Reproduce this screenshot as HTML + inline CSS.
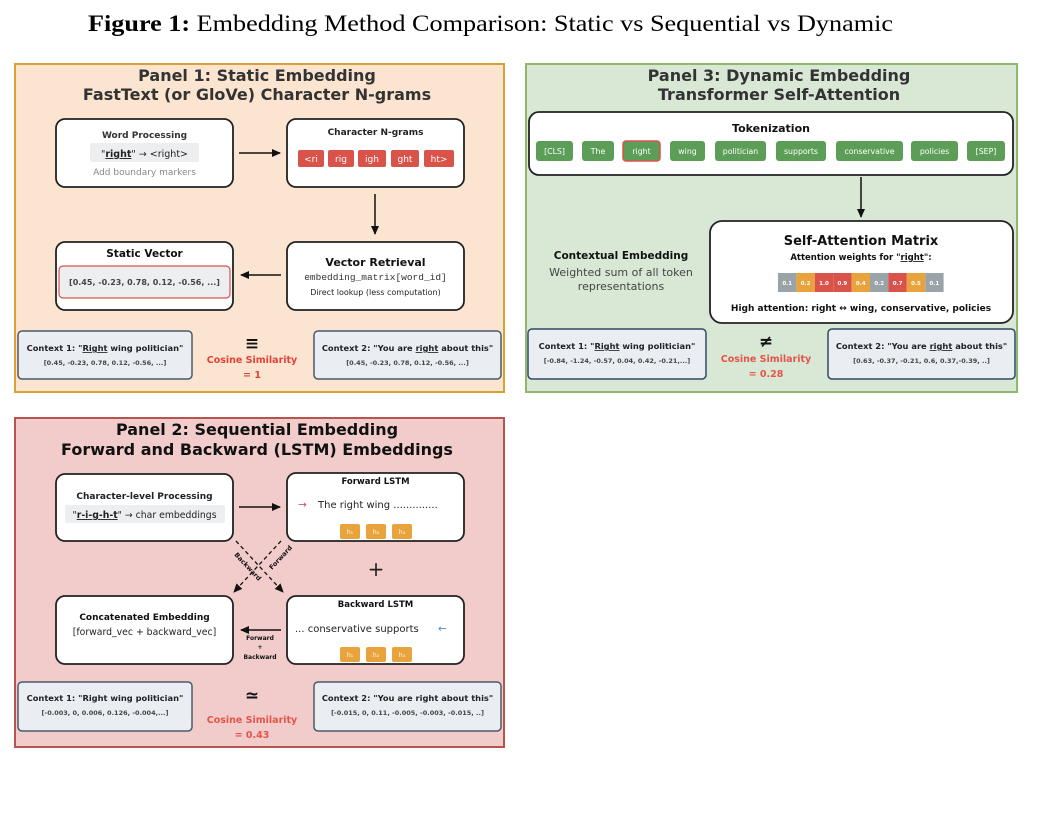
<!DOCTYPE html>
<html><head><meta charset="utf-8"><style>
html,body{margin:0;padding:0;background:#fff;}
svg text{font-family:"DejaVu Sans","Liberation Sans",sans-serif;}
.b{font-weight:bold;}
.serif{font-family:"Liberation Serif",serif;}
</style></head><body>
<svg width="1044" height="822" viewBox="0 0 1044 822" xmlns="http://www.w3.org/2000/svg">
<defs>
<marker id="ah" markerWidth="10" markerHeight="10" refX="8" refY="5" orient="auto" markerUnits="userSpaceOnUse"><path d="M0,1 L9,5 L0,9 Z" fill="#111"/></marker>
</defs>
<text x="88" y="31" class="serif" font-size="23" textLength="805" lengthAdjust="spacingAndGlyphs"><tspan font-weight="bold">Figure 1:</tspan> Embedding Method Comparison: Static vs Sequential vs Dynamic</text>

<!-- Panel 1 -->
<rect x="15" y="64" width="489" height="328" fill="#fbe5d0" stroke="#d9a233" stroke-width="2"/>
<text x="257" y="81" class="b" font-size="16" fill="#333" text-anchor="middle">Panel 1: Static Embedding</text>
<text x="257" y="100" class="b" font-size="16" fill="#333" text-anchor="middle">FastText (or GloVe) Character N-grams</text>
<rect x="56" y="119" width="177" height="68" rx="9" fill="#fff" stroke="#222" stroke-width="1.8"/>
<text x="144.5" y="138" class="b" font-size="9" fill="#333" text-anchor="middle">Word Processing</text>
<rect x="90" y="143" width="109" height="19" rx="2" fill="#eceef0"/>
<text x="144.5" y="157" font-size="9.5" fill="#222" text-anchor="middle">"<tspan font-weight="bold" text-decoration="underline">right</tspan>" → &lt;right&gt;</text>
<text x="144.5" y="175" font-size="9" fill="#888" text-anchor="middle">Add boundary markers</text>
<rect x="287" y="119" width="177" height="68" rx="9" fill="#fff" stroke="#222" stroke-width="1.8"/>
<text x="375.5" y="135" class="b" font-size="9" fill="#222" text-anchor="middle">Character N-grams</text>
<g font-size="9" fill="#fff" text-anchor="middle">
<rect x="298" y="150" width="26" height="17" rx="2" fill="#d9534a"/><text x="311" y="162">&lt;ri</text>
<rect x="328" y="150" width="26" height="17" rx="2" fill="#d9534a"/><text x="341" y="162">rig</text>
<rect x="358" y="150" width="28" height="17" rx="2" fill="#d9534a"/><text x="372" y="162">igh</text>
<rect x="391" y="150" width="28" height="17" rx="2" fill="#d9534a"/><text x="405" y="162">ght</text>
<rect x="424" y="150" width="30" height="17" rx="2" fill="#d9534a"/><text x="439" y="162">ht&gt;</text>
</g>
<line x1="239" y1="153" x2="280" y2="153" stroke="#111" stroke-width="1.5" marker-end="url(#ah)"/>
<line x1="375" y1="194" x2="375" y2="234" stroke="#111" stroke-width="1.5" marker-end="url(#ah)"/>
<rect x="56" y="242" width="177" height="68" rx="9" fill="#fff" stroke="#222" stroke-width="1.8"/>
<text x="144.5" y="257" class="b" font-size="10.5" fill="#111" text-anchor="middle">Static Vector</text>
<rect x="59" y="266" width="171" height="32" rx="4" fill="#eceef0" stroke="#d9534a" stroke-width="1.2"/>
<text x="144.5" y="285" class="b" font-size="8" fill="#444" text-anchor="middle">[0.45, -0.23, 0.78, 0.12, -0.56, ...]</text>
<rect x="287" y="242" width="177" height="68" rx="9" fill="#fff" stroke="#222" stroke-width="1.8"/>
<text x="375.5" y="266" class="b" font-size="11" fill="#111" text-anchor="middle">Vector Retrieval</text>
<text x="375.5" y="280" font-size="9.5" fill="#333" text-anchor="middle" style="font-family:'Liberation Mono',monospace">embedding_matrix[word_id]</text>
<text x="375.5" y="295" font-size="8" fill="#222" text-anchor="middle">Direct lookup (less computation)</text>
<line x1="281" y1="275" x2="241" y2="275" stroke="#111" stroke-width="1.5" marker-end="url(#ah)"/>
<rect x="18" y="331" width="174" height="48" rx="4" fill="#eaeef2" stroke="#4a5a6a" stroke-width="1.5"/>
<text x="105" y="351" class="b" font-size="8.3" fill="#222" text-anchor="middle">Context 1: "<tspan text-decoration="underline">Right</tspan> wing politician"</text>
<text x="105" y="365" class="b" font-size="6.5" fill="#444" text-anchor="middle">[0.45, -0.23, 0.78, 0.12, -0.56, ...]</text>
<rect x="314" y="331" width="187" height="48" rx="4" fill="#eaeef2" stroke="#4a5a6a" stroke-width="1.5"/>
<text x="407.5" y="351" class="b" font-size="8.3" fill="#222" text-anchor="middle">Context 2: "You are <tspan text-decoration="underline">right</tspan> about this"</text>
<text x="407.5" y="365" class="b" font-size="6.5" fill="#444" text-anchor="middle">[0.45, -0.23, 0.78, 0.12, -0.56, ...]</text>
<text x="252" y="349" class="b" font-size="17" fill="#111" text-anchor="middle">≡</text>
<text x="252" y="363" class="b" font-size="9.5" fill="#e4413a" text-anchor="middle">Cosine Similarity</text>
<text x="252" y="378" class="b" font-size="9.5" fill="#e4413a" text-anchor="middle">= 1</text>

<!-- Panel 3 -->
<rect x="526" y="64" width="491" height="328" fill="#d9e7d5" stroke="#8fb86e" stroke-width="2"/>
<text x="779" y="81" class="b" font-size="16" fill="#333" text-anchor="middle">Panel 3: Dynamic Embedding</text>
<text x="779" y="100" class="b" font-size="16" fill="#333" text-anchor="middle">Transformer Self-Attention</text>
<rect x="529" y="112" width="484" height="63" rx="10" fill="#fff" stroke="#222" stroke-width="1.8"/>
<text x="771" y="132" class="b" font-size="11" fill="#111" text-anchor="middle">Tokenization</text>
<g font-size="7.8" fill="#fff" text-anchor="middle">
<rect x="536" y="141" width="37" height="20" rx="3" fill="#5c9e58"/><text x="554.5" y="154">[CLS]</text>
<rect x="582" y="141" width="32" height="20" rx="3" fill="#5c9e58"/><text x="598" y="154">The</text>
<rect x="623" y="141" width="37" height="20" rx="3" fill="#5c9e58" stroke="#d9534a" stroke-width="1.5"/><text x="641.5" y="154">right</text>
<rect x="670" y="141" width="35" height="20" rx="3" fill="#5c9e58"/><text x="687.5" y="154">wing</text>
<rect x="715" y="141" width="51" height="20" rx="3" fill="#5c9e58"/><text x="740.5" y="154">politician</text>
<rect x="776" y="141" width="50" height="20" rx="3" fill="#5c9e58"/><text x="801" y="154">supports</text>
<rect x="836" y="141" width="67" height="20" rx="3" fill="#5c9e58"/><text x="869.5" y="154">conservative</text>
<rect x="911" y="141" width="47" height="20" rx="3" fill="#5c9e58"/><text x="934.5" y="154">policies</text>
<rect x="967" y="141" width="38" height="20" rx="3" fill="#5c9e58"/><text x="986" y="154">[SEP]</text>
</g>
<line x1="861" y1="177" x2="861" y2="217" stroke="#111" stroke-width="1.5" marker-end="url(#ah)"/>
<rect x="710" y="221" width="303" height="102" rx="12" fill="#fff" stroke="#222" stroke-width="1.8"/>
<text x="861" y="245" class="b" font-size="13" fill="#111" text-anchor="middle">Self-Attention Matrix</text>
<text x="861" y="260" class="b" font-size="8.5" fill="#111" text-anchor="middle">Attention weights for "<tspan text-decoration="underline">right</tspan>":</text>
<g font-size="5.5" fill="#fff" text-anchor="middle" class="b">
<rect x="778" y="273" width="18.4" height="19" fill="#9aa3a8"/><text x="787.2" y="285">0.1</text>
<rect x="796.4" y="273" width="18.4" height="19" fill="#e8a33c"/><text x="805.6" y="285">0.2</text>
<rect x="814.8" y="273" width="18.4" height="19" fill="#d9534a"/><text x="824" y="285">1.0</text>
<rect x="833.2" y="273" width="18.4" height="19" fill="#d9534a"/><text x="842.4" y="285">0.9</text>
<rect x="851.6" y="273" width="18.4" height="19" fill="#e8a33c"/><text x="860.8" y="285">0.4</text>
<rect x="870" y="273" width="18.4" height="19" fill="#9aa3a8"/><text x="879.2" y="285">0.2</text>
<rect x="888.4" y="273" width="18.4" height="19" fill="#d9534a"/><text x="897.6" y="285">0.7</text>
<rect x="906.8" y="273" width="18.4" height="19" fill="#e8a33c"/><text x="916" y="285">0.5</text>
<rect x="925.2" y="273" width="18.4" height="19" fill="#9aa3a8"/><text x="934.4" y="285">0.1</text>
</g>
<text x="861" y="311" class="b" font-size="9" fill="#111" text-anchor="middle">High attention: right ↔ wing, conservative, policies</text>
<text x="621" y="259" class="b" font-size="10.5" fill="#111" text-anchor="middle">Contextual Embedding</text>
<text x="621" y="276" font-size="11" fill="#444" text-anchor="middle">Weighted sum of all token</text>
<text x="621" y="290" font-size="11" fill="#444" text-anchor="middle">representations</text>
<rect x="528" y="329" width="178" height="50" rx="4" fill="#eaeef2" stroke="#2f4a66" stroke-width="1.5"/>
<text x="617" y="349" class="b" font-size="8.3" fill="#222" text-anchor="middle">Context 1: "<tspan text-decoration="underline">Right</tspan> wing politician"</text>
<text x="617" y="363" class="b" font-size="6.5" fill="#444" text-anchor="middle">[-0.84, -1.24, -0.57, 0.04, 0.42, -0.21,...]</text>
<rect x="828" y="329" width="187" height="50" rx="4" fill="#eaeef2" stroke="#2f4a66" stroke-width="1.5"/>
<text x="921.5" y="349" class="b" font-size="8.3" fill="#222" text-anchor="middle">Context 2: "You are <tspan text-decoration="underline">right</tspan> about this"</text>
<text x="921.5" y="363" class="b" font-size="6.5" fill="#444" text-anchor="middle">[0.63, -0.37, -0.21, 0.6, 0.37,-0.39, ..]</text>
<text x="766" y="347" class="b" font-size="17" fill="#111" text-anchor="middle">≠</text>
<text x="766" y="362" class="b" font-size="9.5" fill="#e4544a" text-anchor="middle">Cosine Similarity</text>
<text x="766" y="377" class="b" font-size="9.5" fill="#e4544a" text-anchor="middle">=  0.28</text>

<!-- Panel 2 -->
<rect x="15" y="418" width="489" height="329" fill="#f1cccb" stroke="#b85450" stroke-width="2"/>
<text x="257" y="435" class="b" font-size="16" fill="#111" text-anchor="middle">Panel 2: Sequential Embedding</text>
<text x="257" y="455" class="b" font-size="16" fill="#111" text-anchor="middle">Forward and Backward (LSTM) Embeddings</text>
<rect x="56" y="474" width="177" height="67" rx="9" fill="#fff" stroke="#222" stroke-width="1.8"/>
<text x="144.5" y="499" class="b" font-size="9" fill="#222" text-anchor="middle">Character-level Processing</text>
<rect x="65" y="505" width="160" height="18" rx="2" fill="#eceef0"/>
<text x="144.5" y="518" font-size="9.3" fill="#222" text-anchor="middle">"<tspan font-weight="bold" text-decoration="underline">r-i-g-h-t</tspan>" → char embeddings</text>
<rect x="287" y="473" width="177" height="68" rx="9" fill="#fff" stroke="#222" stroke-width="1.8"/>
<text x="375.5" y="484" class="b" font-size="8.5" fill="#111" text-anchor="middle">Forward LSTM</text>
<text x="298" y="508" font-size="10.5" fill="#e4544a">→</text>
<text x="318" y="508" font-size="10" fill="#222">The right wing ..............</text>
<g font-size="6" fill="#fff" text-anchor="middle">
<rect x="340" y="524" width="20" height="15" rx="2" fill="#e8a33c"/><text x="350" y="534">h₁</text>
<rect x="366" y="524" width="20" height="15" rx="2" fill="#e8a33c"/><text x="376" y="534">h₂</text>
<rect x="392" y="524" width="20" height="15" rx="2" fill="#e8a33c"/><text x="402" y="534">h₃</text>
</g>
<line x1="239" y1="507" x2="280" y2="507" stroke="#111" stroke-width="1.5" marker-end="url(#ah)"/>
<line x1="236" y1="541" x2="283" y2="592" stroke="#111" stroke-width="1.3" stroke-dasharray="4,3" marker-end="url(#ah)"/>
<line x1="281" y1="541" x2="234" y2="592" stroke="#111" stroke-width="1.3" stroke-dasharray="4,3" marker-end="url(#ah)"/>
<text transform="translate(234,555) rotate(47)" font-size="6.5" class="b" fill="#111">Backward</text>
<text transform="translate(272,570) rotate(-47)" font-size="6.5" class="b" fill="#111">Forward</text>
<text x="376" y="576" font-size="20" fill="#222" text-anchor="middle">+</text>
<rect x="56" y="596" width="177" height="68" rx="9" fill="#fff" stroke="#222" stroke-width="1.8"/>
<text x="144.5" y="620" class="b" font-size="9" fill="#111" text-anchor="middle">Concatenated Embedding</text>
<text x="144.5" y="635" font-size="9.3" fill="#222" text-anchor="middle">[forward_vec + backward_vec]</text>
<rect x="287" y="596" width="177" height="68" rx="9" fill="#fff" stroke="#222" stroke-width="1.8"/>
<text x="375.5" y="607" class="b" font-size="8.5" fill="#111" text-anchor="middle">Backward LSTM</text>
<text x="295" y="632" font-size="10" fill="#222">... conservative supports</text>
<text x="438" y="632" font-size="10.5" fill="#4a90d9">←</text>
<g font-size="6" fill="#fff" text-anchor="middle">
<rect x="340" y="647" width="20" height="15" rx="2" fill="#e8a33c"/><text x="350" y="657">h₁</text>
<rect x="366" y="647" width="20" height="15" rx="2" fill="#e8a33c"/><text x="376" y="657">h₂</text>
<rect x="392" y="647" width="20" height="15" rx="2" fill="#e8a33c"/><text x="402" y="657">h₃</text>
</g>
<line x1="281" y1="630" x2="241" y2="630" stroke="#111" stroke-width="1.5" marker-end="url(#ah)"/>
<text x="260" y="640" class="b" font-size="6" fill="#111" text-anchor="middle">Forward</text>
<text x="260" y="649" class="b" font-size="6" fill="#111" text-anchor="middle">+</text>
<text x="260" y="659" class="b" font-size="6" fill="#111" text-anchor="middle">Backward</text>
<rect x="18" y="682" width="174" height="49" rx="4" fill="#eaeef2" stroke="#4a5a6a" stroke-width="1.5"/>
<text x="105" y="701" class="b" font-size="8.3" fill="#222" text-anchor="middle">Context 1: "Right wing politician"</text>
<text x="105" y="715" font-size="6.5" fill="#444" text-anchor="middle" class="b">[-0.003, 0, 0.006, 0.126, -0.004,...]</text>
<rect x="314" y="682" width="187" height="49" rx="4" fill="#eaeef2" stroke="#4a5a6a" stroke-width="1.5"/>
<text x="407.5" y="701" class="b" font-size="8.3" fill="#222" text-anchor="middle">Context 2: "You are right about this"</text>
<text x="407.5" y="715" font-size="6.5" fill="#444" text-anchor="middle" class="b">[-0.015, 0, 0.11, -0.005, -0.003, -0.015, ..]</text>
<text x="252" y="701" class="b" font-size="17" fill="#111" text-anchor="middle">≃</text>
<text x="252" y="723" class="b" font-size="9.5" fill="#e4544a" text-anchor="middle">Cosine Similarity</text>
<text x="252" y="738" class="b" font-size="9.5" fill="#e4544a" text-anchor="middle">=  0.43</text>
</svg>
</body></html>
